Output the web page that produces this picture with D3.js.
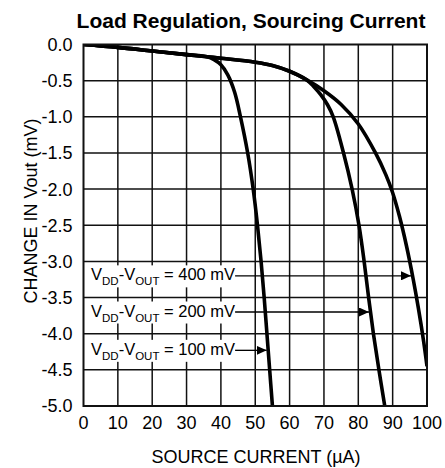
<!DOCTYPE html>
<html lang="en">
<head>
<meta charset="utf-8">
<title>Load Regulation, Sourcing Current</title>
<script src="https://d3js.org/d3.v7.min.js"></script>
<style>
    body { margin: 0; background: #fff; font-family: Arial, "Liberation Sans", sans-serif; }
    .title { font-size: 21px; font-weight: bold; text-anchor: middle; }
    .tick-label { font-size: 18px; }
    .axis-title { font-size: 18px; text-anchor: middle; }
    .grid { stroke: #111; stroke-width: 1.5px; }
    .frame { fill: none; stroke: #111; stroke-width: 2px; }
    .curve { fill: none; stroke: #000; stroke-width: 3.6px; stroke-linejoin: round; }
    .note { font-size: 16.5px; }
</style>
</head>
<body>
<svg width="445" height="468"></svg>
<script>
    // source current (uA) / change in Vout (mV)
    const xTicks = [0, 10, 20, 30, 40, 50, 60, 70, 80, 90, 100];
    const yTicks = [0, -0.5, -1, -1.5, -2, -2.5, -3, -3.5, -4, -4.5, -5];

    const common = [[0, 0], [10, -0.04], [20, -0.09], [30, -0.14], [36, -0.17]];
    const curve100 = common.concat([[38, -0.21], [40, -0.28], [42, -0.42], [44, -0.66], [45.7, -1.0],
        [47.8, -1.5], [49.4, -2.0], [50.65, -2.5], [51.7, -3.0], [52.6, -3.5], [53.4, -4.0], [54.2, -4.5], [55.0, -5.0]]);
    const shared = common.concat([[40, -0.19], [50, -0.245], [55, -0.29], [60, -0.37], [65, -0.49]]);
    const curve200 = shared.concat([[67, -0.58], [69, -0.69], [71, -0.83], [72.7, -1.0], [75.7, -1.5],
        [78.2, -2.0], [80.2, -2.5], [81.7, -3.0], [83.0, -3.5], [84.4, -4.0], [86.0, -4.5], [87.7, -5.0]]);
    const curve400 = shared.concat([[70, -0.64], [75, -0.83], [80, -1.1], [85, -1.5], [88, -1.8],
        [90, -2.05], [92, -2.38], [94, -2.78], [96, -3.25], [97.5, -3.65], [99, -4.1], [100, -4.45]]);

    const noteVolts = ["400", "200", "100"];
    const noteLevels = [-3.2, -3.7, -4.23];   // mV where each arrow sits
    const noteCurves = [curve400, curve200, curve100];

    const svg = d3.select("svg");
    const x = d3.scaleLinear().domain([0, 100]).range([83.5, 427]);
    const y = d3.scaleLinear().domain([-5, 0]).range([406, 44.5]);

    svg.append("text").attr("class", "title").attr("x", 251).attr("y", 28)
        .text("Load Regulation, Sourcing Current");

    // grid
    svg.selectAll(".gx").data(xTicks.slice(1, -1)).enter().append("line")
        .attr("class", "grid")
        .attr("x1", d => x(d)).attr("x2", d => x(d))
        .attr("y1", y(0)).attr("y2", y(-5));
    svg.selectAll(".gy").data(yTicks.slice(1, -1)).enter().append("line")
        .attr("class", "grid")
        .attr("x1", x(0)).attr("x2", x(100))
        .attr("y1", d => y(d)).attr("y2", d => y(d));

    // tick labels
    svg.selectAll(".xl").data(xTicks).enter().append("text")
        .attr("class", "tick-label").attr("text-anchor", "middle")
        .attr("x", d => x(d)).attr("y", 429)
        .text(d => d);
    svg.selectAll(".yl").data(yTicks).enter().append("text")
        .attr("class", "tick-label").attr("text-anchor", "end")
        .attr("x", 72.5).attr("y", d => y(d) + 6.4)
        .text(d => d3.format(".1f")(d).replace("−", "-"));

    svg.append("text").attr("class", "axis-title").attr("x", 256).attr("y", 463)
        .text("SOURCE CURRENT (\u00b5A)");
    svg.append("text").attr("class", "axis-title")
        .attr("transform", "translate(37,211) rotate(-90)")
        .text("CHANGE IN Vout (mV)");

    // curves
    svg.append("clipPath").attr("id", "plot").append("rect")
        .attr("x", x(0)).attr("y", y(0)).attr("width", x(100) - x(0)).attr("height", y(-5) - y(0));
    const line = d3.line().x(d => x(d[0])).y(d => y(d[1])).curve(d3.curveCatmullRom.alpha(0.5));
    svg.append("g").attr("clip-path", "url(#plot)")
        .selectAll("path").data([curve400, curve200, curve100]).enter().append("path")
        .attr("class", "curve").attr("d", line);

    // annotations
    function xAt(pts, v) {
        for (let i = 1; i < pts.length; i++) {
            const a = pts[i - 1], b = pts[i];
            if (v <= a[1] && v >= b[1]) return a[0] + (b[0] - a[0]) * (v - a[1]) / (b[1] - a[1]);
        }
        return pts[pts.length - 1][0];
    }
    svg.append("defs").append("marker").attr("id", "arrow")
        .attr("viewBox", "0 0 10 10").attr("refX", 10).attr("refY", 5)
        .attr("markerWidth", 10).attr("markerHeight", 9).attr("markerUnits", "userSpaceOnUse")
        .attr("orient", "auto").attr("preserveAspectRatio", "none")
        .append("path").attr("d", "M0,0L10,5L0,10z").attr("fill", "#000");

    noteVolts.forEach((v, i) => {
        const yy = y(noteLevels[i]);
        const g = svg.append("g");
        const bg = g.append("rect").attr("fill", "#fff");
        const t = g.append("text").attr("class", "note").attr("x", 91).attr("y", yy + 4.5);
        t.append("tspan").text("V");
        t.append("tspan").attr("font-size", "11.5px").attr("dy", 5).text("DD");
        t.append("tspan").attr("dy", -5).text("-V");
        t.append("tspan").attr("font-size", "11.5px").attr("dy", 5).text("OUT");
        t.append("tspan").attr("dy", -5).text(" = " + v + " mV");
        const bb = t.node().getBBox();
        bg.attr("x", bb.x - 1).attr("y", bb.y).attr("width", bb.width + 2).attr("height", bb.height);
        g.append("line")
            .attr("x1", bb.x + bb.width).attr("x2", x(xAt(noteCurves[i], noteLevels[i])) - 1.5)
            .attr("y1", yy).attr("y2", yy)
            .attr("stroke", "#000").attr("stroke-width", 1.3)
            .attr("marker-end", "url(#arrow)");
    });

    svg.append("rect").attr("class", "frame")
        .attr("x", x(0)).attr("y", y(0)).attr("width", x(100) - x(0)).attr("height", y(-5) - y(0));
</script>
</body>
</html>
